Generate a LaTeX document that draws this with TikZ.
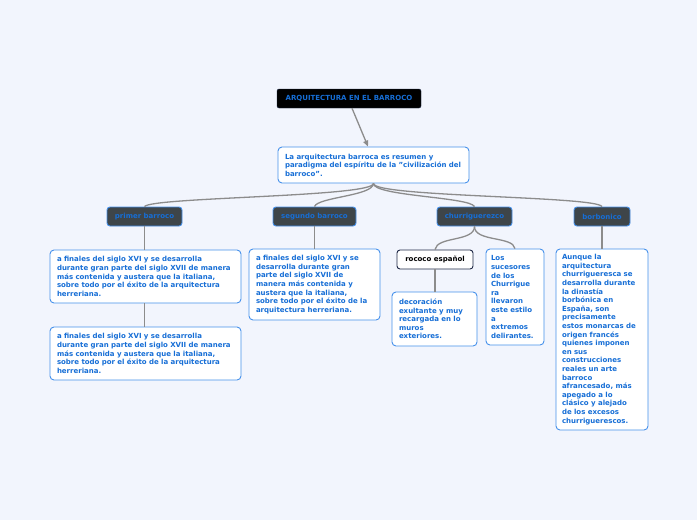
\documentclass[tikz,border=0pt]{standalone}
\usepackage{fontspec}
\setmainfont{DejaVu Sans}
\usetikzlibrary{arrows.meta,calc}
\definecolor{bgc}{RGB}{242,245,253}
\definecolor{tblue}{RGB}{22,110,214}
\definecolor{bblue}{RGB}{70,145,235}
\definecolor{dgray}{RGB}{62,69,73}
\definecolor{lgray}{RGB}{140,140,140}
\definecolor{navy}{RGB}{30,40,70}
\tikzset{
  txt/.style={font=\bfseries\fontsize{7}{8.6}\selectfont},
  tbox/.style={txt, draw=bblue, fill=white, rounded corners=4pt, line width=0.9pt, text=tblue, align=left, inner xsep=0pt, inner ysep=0pt},
  topic/.style={txt, draw=bblue, fill=dgray, rounded corners=3pt, line width=0.9pt, text=tblue, inner sep=0pt},
  conn/.style={draw=lgray, line width=1.3pt},
}
\begin{document}
\begin{tikzpicture}[x=1pt,y=-1pt]
\useasboundingbox[fill=bgc] (0,0) rectangle (697,520);
% title
\node[txt, fill=black, draw=navy, rounded corners=2pt, text=tblue, minimum width=144, minimum height=19, inner sep=0pt] (title) at (349,98.5) {ARQUITECTURA EN EL BARROCO};
% main
\node[tbox, minimum width=191, minimum height=36, text width=177] (main) at (373.5,165) {La arquitectura barroca es resumen y\\paradigma del espíritu de la "civilización del\\barroco".};
% level 2
\node[topic, minimum width=75, minimum height=19] (pb) at (144.5,216.5) {primer barroco};
\node[topic, minimum width=83, minimum height=19] (sb) at (314.5,216.5) {segundo barroco};
\node[topic, minimum width=75, minimum height=19] (ch) at (474.5,216.5) {churriguerezco};
\node[topic, minimum width=56, minimum height=19] (bo) at (602,216.5) {borbonico};
% level 3
\node[tbox, minimum width=191, minimum height=53, text width=177] (p1) at (145.5,276.5) {a finales del siglo XVI y se desarrolla\\durante gran parte del siglo XVII de manera\\más contenida y austera que la italiana,\\sobre todo por el éxito de la arquitectura\\herreriana.};
\node[tbox, minimum width=191, minimum height=53, text width=177] (p2) at (145.5,353.5) {a finales del siglo XVI y se desarrolla\\durante gran parte del siglo XVII de manera\\más contenida y austera que la italiana,\\sobre todo por el éxito de la arquitectura\\herreriana.};
\node[tbox, minimum width=131, minimum height=71, text width=117] (s1) at (314.5,284.5) {a finales del siglo XVI y se\\desarrolla durante gran\\parte del siglo XVII de\\manera más contenida y\\austera que la italiana,\\sobre todo por el éxito de la\\arquitectura herreriana.};
\node[txt, draw=navy, fill=white, rounded corners=3pt, line width=0.9pt, text=black, minimum width=76, minimum height=19, inner sep=0pt] (ro) at (435,259.5) {rococo español};
\node[tbox, minimum width=85, minimum height=54, text width=71] (de) at (434.5,319) {decoración\\exultante y muy\\recargada en lo\\muros\\exteriores.};
\node[tbox, minimum width=58, minimum height=96, text width=48] (lo) at (515,297) {Los\\sucesores\\de los\\Churrigue\\ra\\llevaron\\este estilo\\a\\extremos\\delirantes.};
\node[tbox, minimum width=92, minimum height=181, text width=80] (au) at (602,339.5) {Aunque la\\arquitectura\\churrigueresca se\\desarrolla durante\\la dinastía\\borbónica en\\España, son\\precisamente\\estos monarcas de\\origen francés\\quienes imponen\\en sus\\construcciones\\reales un arte\\barroco\\afrancesado, más\\apegado a lo\\clásico y alejado\\de los excesos\\churriguerescos.};
% connectors
\coordinate (ts) at ($(title.south)+(3,0)$);
\coordinate (mn) at ($(main.north)+(-5.5,0)$);
\draw[conn, -{Triangle[length=6pt,width=5pt]}] (ts) -- (mn);
\coordinate (ms) at (main.south);
\draw[conn] (ms) .. controls (373,197) and (152,197) .. (pb.north);
\draw[conn] (ms) .. controls (373,196) and (318,197) .. (sb.north);
\draw[conn] (ms) .. controls (373,196) and (470,197) .. (ch.north);
\draw[conn] (ms) .. controls (373,197) and (596,196) .. (bo.north);
\draw[conn] (pb.south) -- (p1.north -| pb.south);
\draw[conn] (p1.south -| pb.south) -- (p2.north -| pb.south);
\draw[conn] (sb.south) -- (s1.north -| sb.south);
\draw[conn] (ch.south) .. controls (474.5,242) and (437,236) .. (ro.north);
\draw[conn] (ch.south) .. controls (474.5,242) and (513,236) .. (lo.north);
\draw[conn] (ro.south) -- (de.north -| ro.south);
\draw[conn] (bo.south) -- (au.north -| bo.south);
\end{tikzpicture}
\end{document}
